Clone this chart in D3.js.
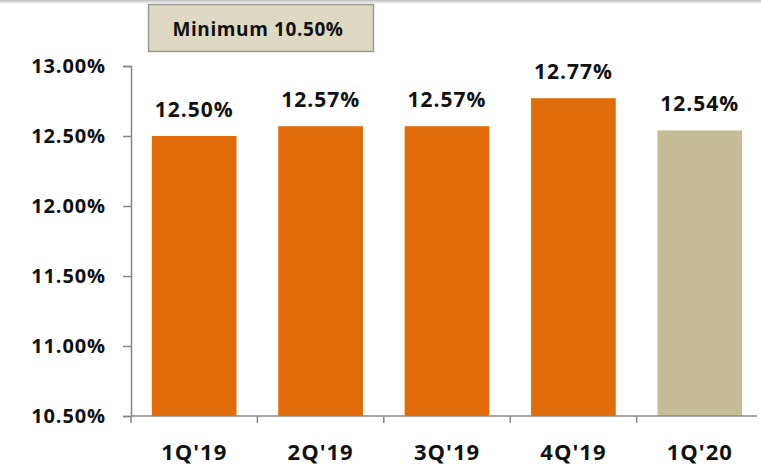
<!DOCTYPE html>
<html><head><meta charset="utf-8">
<script src="https://d3js.org/d3.v7.min.js"></script>
<style>body{margin:0;background:#fff}svg{display:block}</style>
</head><body>
<script>
const categories = ["1Q'19","2Q'19","3Q'19","4Q'19","1Q'20"];
const values = [12.50, 12.57, 12.57, 12.77, 12.54];
const labels = ["12.50%","12.57%","12.57%","12.77%","12.54%"];
const yTicks = [10.5, 11.0, 11.5, 12.0, 12.5, 13.0];
const legendText = "Minimum 10.50%";

const W = 761, H = 465;
const svg = d3.select("body").append("svg").attr("width", W).attr("height", H);
const font = "'Open Sans', sans-serif";

// top shadow line
const g0 = svg.append("defs").append("linearGradient").attr("id","sh").attr("x1",0).attr("x2",0).attr("y1",0).attr("y2",1);
g0.append("stop").attr("offset",0).attr("stop-color","#bdbdbd");
g0.append("stop").attr("offset",1).attr("stop-color","#ffffff");
svg.append("rect").attr("x",0).attr("y",0).attr("width",W).attr("height",4).attr("fill","url(#sh)");

const x = d3.scaleBand().domain(categories).range([131, 763]).paddingInner(0.33).paddingOuter(0.165);
const y = d3.scaleLinear().domain([10.5, 13.0]).range([416, 66]);

// bars
svg.selectAll("rect.bar").data(values).join("rect").attr("class","bar")
  .attr("x",(d,i)=>x(categories[i])).attr("width",x.bandwidth())
  .attr("y",d=>y(d)).attr("height",d=>y(10.5)-y(d))
  .attr("fill",(d,i)=>i===4?"#C4BD97":"#E36C0A");

// y axis
const ya = svg.append("g").attr("transform","translate(131,0)")
  .call(d3.axisLeft(y).tickValues(yTicks).tickSize(8).tickFormat(d=>d3.format(".2f")(d)+"%"));
ya.select(".domain").attr("stroke","#878787").attr("stroke-width",1.5);
ya.selectAll(".tick line").attr("stroke","#878787").attr("stroke-width",1.5);
ya.selectAll(".tick text").attr("x",-25).attr("font-family",font).attr("font-weight","bold").attr("font-size","20px").attr("letter-spacing","0.9px").attr("fill","#111");

// x axis
const xa = svg.append("g").attr("transform","translate(0,416)")
  .call(d3.axisBottom(x).tickSize(0).tickSizeOuter(0));
xa.select(".domain").attr("stroke","#878787").attr("stroke-width",1.5).attr("d","M131,0H757");
xa.selectAll(".tick text").attr("y",28).attr("dy","0.72em").attr("font-family",font).attr("font-weight","bold").attr("font-size","22px").attr("letter-spacing","1px").attr("fill","#111");
// boundary ticks
const bounds = categories.map(c=>x(c)-x.step()*x.paddingInner()/2).concat([x(categories[4])+x.bandwidth()+x.step()*x.paddingInner()/2]);
xa.selectAll("line.bt").data(bounds).join("line").attr("class","bt")
  .attr("x1",d=>d).attr("x2",d=>d).attr("y1",0).attr("y2",7).attr("stroke","#878787").attr("stroke-width",1.5);

// value labels
svg.selectAll("text.val").data(values).join("text").attr("class","val")
  .attr("x",(d,i)=>x(categories[i])+x.bandwidth()/2).attr("y",d=>y(d)-19)
  .attr("text-anchor","middle").attr("font-family",font).attr("font-weight","bold").attr("font-size","21px").attr("letter-spacing","1px").attr("fill","#111")
  .text((d,i)=>labels[i]);

// legend box
svg.append("rect").attr("x",148.5).attr("y",4.5).attr("width",225).attr("height",47)
  .attr("fill","#DDD9C3").attr("stroke","#9a9a9a").attr("stroke-width",1.5);
svg.append("text").attr("x",258).attr("y",36).attr("text-anchor","middle")
  .attr("font-family",font).attr("font-weight","bold").attr("font-size","19px").attr("letter-spacing","0.6px").attr("fill","#111").text(legendText);
</script>
</body></html>
